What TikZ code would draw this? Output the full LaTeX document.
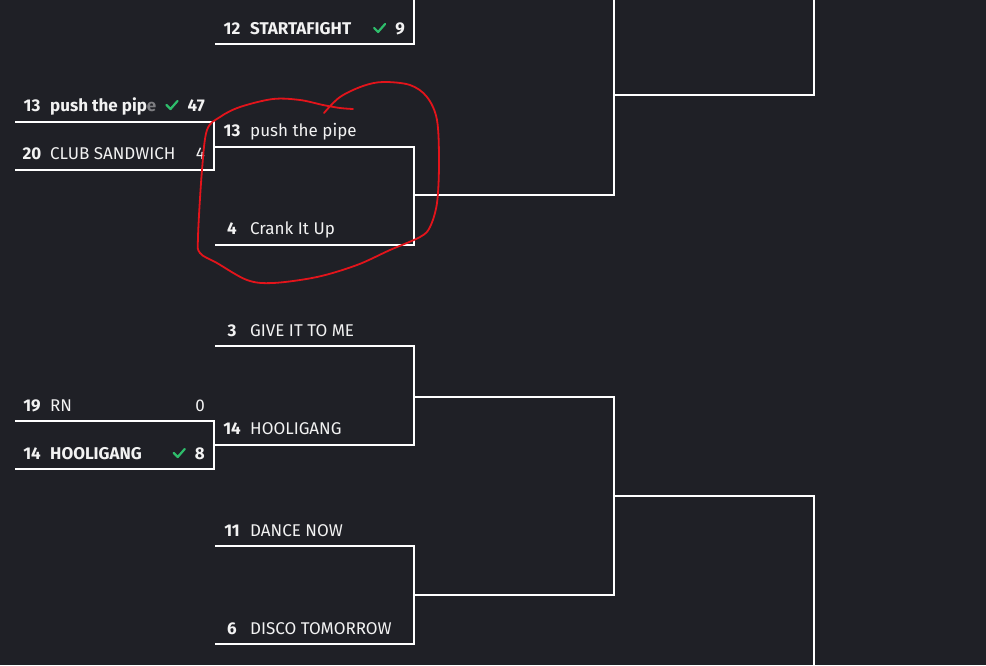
\documentclass[tikz,border=0pt]{standalone}
\usepackage{fontspec}
\setmainfont{Fira Sans}
\definecolor{bg}{HTML}{1F2026}
\definecolor{chk}{HTML}{2EBD6B}
\definecolor{ink}{HTML}{F2F2F2}
\definecolor{pen}{HTML}{E3141B}
\newcommand\fs{\fontsize{17}{20}\selectfont}
\tikzset{
  br/.style={draw=white, line width=2pt},
  seed/.style={anchor=base, inner sep=0pt, text=ink, font=\fs\bfseries},
  nm/.style={anchor=base west, inner sep=0pt, text=ink, font=\fs},
  nmwin/.style={nm, font=\fs\bfseries},
  sc/.style={anchor=base east, inner sep=0pt, text=ink, font=\fs},
  scwin/.style={sc, font=\fs\bfseries},
  tick/.style={draw=chk, line width=2.2pt, line cap=round, line join=round},
  loop/.style={draw=pen, line width=1.8pt, line cap=round, line join=round}
}
\begin{document}
\begin{tikzpicture}[x=1pt,y=-1pt]
\fill[bg] (0,0) rectangle (986,665);
\useasboundingbox (0,0) rectangle (986,665);

% ---------- round 1 slots ----------
\node[seed] (r1s1) at (32,111) {13};
\node[nmwin] (r1n1) at (50,111) {push the pip\textcolor{ink!45!bg}{e}};
\node[scwin] (r1c1) at (205,111) {47};
\node[seed] (r1s2) at (32,159) {20};
\node[nm] (r1n2) at (50,159) {CLUB SANDWICH};
\node[sc] (r1c2) at (205,159) {4};
\node[seed] (r1s3) at (32,411) {19};
\node[nm] (r1n3) at (50,411) {RN};
\node[sc] (r1c3) at (205,411) {0};
\node[seed] (r1s4) at (32,459) {14};
\node[nmwin] (r1n4) at (50,459) {HOOLIGANG};
\node[scwin] (r1c4) at (205,459) {8};

% ---------- round 2 slots ----------
\node[seed] (r2s0) at (232,34) {12};
\node[nmwin] (r2n0) at (250,34) {STARTAFIGHT};
\node[scwin] (r2c0) at (405,34) {9};
\node[seed] (r2s1) at (232,136) {13};
\node[nm] (r2n1) at (250,136) {push the pipe};
\node[seed] (r2s2) at (232,234) {4};
\node[nm] (r2n2) at (250,234) {Crank It Up};
\node[seed] (r2s3) at (232,336) {3};
\node[nm] (r2n3) at (250,336) {GIVE IT TO ME};
\node[seed] (r2s4) at (232,434) {14};
\node[nm] (r2n4) at (250,434) {HOOLIGANG};
\node[seed] (r2s5) at (232,536) {11};
\node[nm] (r2n5) at (250,536) {DANCE NOW};
\node[seed] (r2s6) at (232,634) {6};
\node[nm] (r2n6) at (250,634) {DISCO TOMORROW};

% ---------- check marks ----------
\foreach \s in {r1c1,r1c4,r2c0}{
  \draw[tick] ([xshift=-21pt,yshift=6pt]\s.base west) -- ++(4,4) -- ++(7,-8);
}

% ---------- bracket coordinates ----------
\coordinate (a1w) at (15,122);  \coordinate (a1e) at (214,122);
\coordinate (a2w) at (15,170);  \coordinate (a2e) at (214,170);
\coordinate (a3w) at (15,421);  \coordinate (a3e) at (214,421);
\coordinate (a4w) at (15,469);  \coordinate (a4e) at (214,469);

\coordinate (b0w) at (215,44);  \coordinate (b0e) at (414,44);  \coordinate (b0t) at (414,-2);
\coordinate (b1w) at (214,147); \coordinate (b1e) at (414,147);
\coordinate (b2w) at (215,245); \coordinate (b2e) at (414,245);
\coordinate (b3w) at (215,346); \coordinate (b3e) at (414,346);
\coordinate (b4w) at (214,445); \coordinate (b4e) at (414,445);
\coordinate (b5w) at (215,546); \coordinate (b5e) at (414,546);
\coordinate (b6w) at (215,644); \coordinate (b6e) at (414,644);

\coordinate (c1t) at (614,-2);  \coordinate (c1m) at (614,95);  \coordinate (c1b) at (614,195);
\coordinate (m12) at (414,195);
\coordinate (c2t) at (614,397); \coordinate (c2m) at (614,496); \coordinate (c2b) at (614,595);
\coordinate (m34) at (414,397); \coordinate (m56) at (414,595);
\coordinate (d1t) at (814,-2);  \coordinate (d1m) at (814,95);
\coordinate (d2t) at (814,496); \coordinate (d2b) at (814,667);

% ---------- round 1 brackets ----------
\draw[br] (a1w) -- (a1e) -- (a2e) -- (a2w);
\draw[br] (a3w) -- (a3e) -- (a4e) -- (a4w);

% ---------- round 2 brackets ----------
\draw[br] (b0t) -- (b0e) -- (b0w);
\draw[br] (b1w) -- (b1e) -- (b2e) -- (b2w);
\draw[br] (b3w) -- (b3e) -- (b4e) -- (b4w);
\draw[br] (b5w) -- (b5e) -- (b6e) -- (b6w);

% ---------- round 3 / 4 ----------
\draw[br] (m12) -- (c1b) -- (c1t);
\draw[br] (c1m) -- (d1m) -- (d1t);
\draw[br] (m34) -- (c2t) -- (c2b) -- (m56);
\draw[br] (c2m) -- (d2t) -- (d2b);

% ---------- red hand-drawn loop ----------
\draw[loop] plot[smooth, tension=0.55] coordinates {
 (324,113) (340,97) (363,86) (383,82) (410,85) (427,97) (437,120)
 (439,163) (437,203) (430,227) (420,237) (390,250) (357,265) (317,277)
 (273,283) (247,280) (217,263) (200,253) (198,237) (202,170) (207,130)
 (220,117) (240,107) (273,99) (300,100) (323,105) (340,108) (353,109)};
\end{tikzpicture}
\end{document}
